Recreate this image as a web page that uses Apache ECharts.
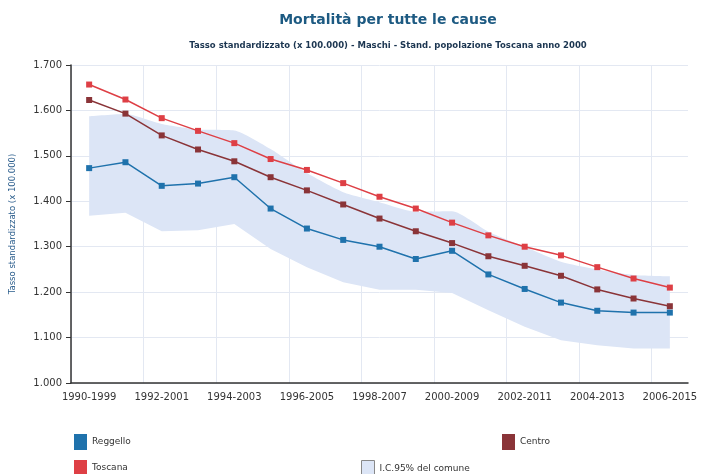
<!DOCTYPE html>
<html>
<head>
<meta charset="utf-8">
<script src="https://cdn.jsdelivr.net/npm/echarts@6/dist/echarts.min.js"></script>
<style>
  html, body { margin: 0; padding: 0; background: #fff; }
  #chart { width: 702px; height: 474px; }
</style>
</head>
<body>
<div id="chart"></div>
<script>
const periods = [
  '1990-1999', '1991-2000', '1992-2001', '1993-2002', '1994-2003', '1995-2004',
  '1996-2005', '1997-2006', '1998-2007', '1999-2008', '2000-2009', '2001-2010',
  '2002-2011', '2003-2012', '2004-2013', '2005-2014', '2006-2015'
]
const reggello = [1473, 1486, 1434, 1439, 1453, 1384, 1340, 1315, 1300, 1273, 1291, 1239, 1207, 1177, 1159, 1155, 1155]
const centro = [1623, 1593, 1545, 1514, 1488, 1453, 1424, 1393, 1362, 1334, 1308, 1279, 1258, 1236, 1206, 1186, 1169]
const toscana = [1657, 1624, 1583, 1555, 1528, 1493, 1469, 1440, 1410, 1384, 1353, 1325, 1300, 1281, 1255, 1230, 1210]
const icLower = [1368, 1375, 1334, 1336, 1350, 1295, 1255, 1222, 1205, 1205, 1198, 1160, 1124, 1094, 1083, 1076, 1076]
const icUpper = [1587, 1592, 1570, 1558, 1556, 1515, 1462, 1420, 1398, 1377, 1378, 1333, 1300, 1267, 1250, 1238, 1235]

const font = 'DejaVu Sans'
const bandColor = '#dce5f6'

// the band is drawn as lower (invisible) + width stacked on top
const icWidth = icUpper.map((v, i) => v - icLower[i])

function lineSeries(name, data, color) {
  return {
    name,
    type: 'line',
    data,
    symbol: 'rect',
    symbolSize: 6,
    lineStyle: { color, width: 1.5 },
    itemStyle: { color },
    z: 3,
  }
}

function legendAt(name, left, top) {
  return {
    data: [name],
    left,
    top,
    orient: 'horizontal',
    icon: 'rect',
    itemWidth: 13,
    itemHeight: 16,
    itemGap: 6,
    textStyle: { fontFamily: font, fontSize: 9, color: '#333' },
  }
}

const chart = echarts.init(document.getElementById('chart'))
chart.setOption({
  animation: false,
  title: [
    {
      text: 'Mortalità per tutte le cause',
      left: 383,
      top: 8,
      textAlign: 'center',
      textStyle: { fontFamily: font, fontSize: 14, fontWeight: 'bold', color: '#1d5a82' },
    },
    {
      text: 'Tasso standardizzato (x 100.000) - Maschi - Stand. popolazione Toscana anno 2000',
      left: 383,
      top: 36,
      textAlign: 'center',
      textStyle: { fontFamily: font, fontSize: 8.5, fontWeight: 'bold', color: '#1b3550' },
    },
  ],
  legend: [
    legendAt('Reggello', 69, 429),
    legendAt('Centro', 497, 429),
    legendAt('Toscana', 69, 455),
    {
      ...legendAt('I.C.95% del comune', 356, 455),
      itemStyle: { borderColor: '#888', borderWidth: 1 },
    },
  ],
  grid: { left: 71, right: 14, top: 65, bottom: 91 },
  xAxis: {
    type: 'category',
    data: periods,
    boundaryGap: true,
    axisLine: { lineStyle: { color: '#333', width: 1.5 } },
    axisTick: { alignWithLabel: true, interval: 1, length: 5, lineStyle: { color: '#333' } },
    axisLabel: { interval: 1, fontFamily: font, fontSize: 10, color: '#333', margin: 9 },
    splitLine: { show: true, interval: 1, showMaxLine: false, lineStyle: { color: '#e3e8f2', width: 1 } },
  },
  yAxis: {
    type: 'value',
    min: 1000,
    max: 1700,
    interval: 100,
    name: 'Tasso standardizzato (x 100.000)',
    nameLocation: 'middle',
    nameGap: 54,
    nameTextStyle: { fontFamily: font, fontSize: 8.5, color: '#2a5d8c' },
    axisLine: { show: true, lineStyle: { color: '#333', width: 1.5 } },
    axisTick: { show: true, length: 5, lineStyle: { color: '#333' } },
    axisLabel: {
      fontFamily: font,
      fontSize: 10,
      color: '#333',
      margin: 9,
      formatter: v => (v / 1000).toFixed(3),
    },
    splitLine: { lineStyle: { color: '#e3e8f2', width: 1 } },
  },
  series: [
    {
      name: 'icLower',
      type: 'line',
      stack: 'ic',
      data: icLower,
      symbol: 'none',
      lineStyle: { opacity: 0 },
      silent: true,
      z: 1,
    },
    {
      name: 'I.C.95% del comune',
      type: 'line',
      stack: 'ic',
      data: icWidth,
      symbol: 'none',
      smooth: 0.2,
      lineStyle: { opacity: 0 },
      itemStyle: { color: bandColor },
      areaStyle: { color: bandColor, opacity: 1 },
      silent: true,
      z: 1,
    },
    lineSeries('Reggello', reggello, '#1f72ac'),
    lineSeries('Centro', centro, '#8a3438'),
    lineSeries('Toscana', toscana, '#de3f45'),
  ],
})
</script>
</body>
</html>
